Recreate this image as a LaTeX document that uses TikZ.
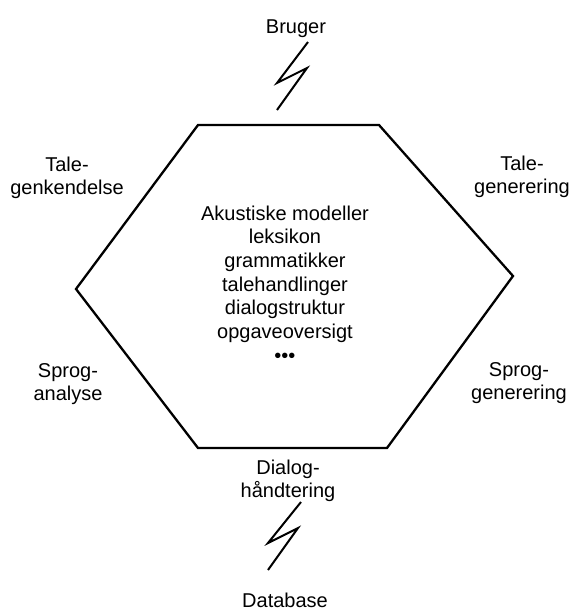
\documentclass[tikz,border=0pt]{standalone}
\usepackage{fontspec}
\setmainfont{Liberation Sans}
\usepackage{tikz}

\begin{document}
\begin{tikzpicture}[x=1pt,y=-1pt,
    txt/.style={align=center,inner sep=0pt,font=\fontsize{20}{23.5}\selectfont},
    bolt/.style={line width=2pt,line join=miter}]
    \useasboundingbox (0,0) rectangle (572,614);
    \draw[line width=2.3pt,line join=miter] (198,125) -- (379,125) -- (513,276) -- (387,448) -- (198,448) -- (76,289) -- cycle;
    \node[txt,anchor=base] (B) at (296,33) {Bruger};
    \node[txt] (TG) at (67,178) {Tale-\\genkendelse};
    \node[txt] (TR) at (522,177) {Tale-\\generering};
    \node[txt,font=\fontsize{20}{23.7}\selectfont] (K) at (285,284) {Akustiske modeller\\leksikon\\grammatikker\\talehandlinger\\dialogstruktur\\opgaveoversigt\\\textbullet\textbullet\textbullet};
    \node[txt] (SA) at (68,384) {Sprog-\\analyse};
    \node[txt] (SG) at (519,383) {Sprog-\\generering};
    \node[txt] (DH) at (288,481) {Dialog-\\håndtering};
    \node[txt,anchor=base] (DB) at (285,607) {Database};
    \draw[bolt] (308,42) -- (277,83) -- (307,68) -- (277,110);
    \draw[bolt] (301,502) -- (268,543) -- (298,528) -- (268,570);
\end{tikzpicture}
\end{document}
